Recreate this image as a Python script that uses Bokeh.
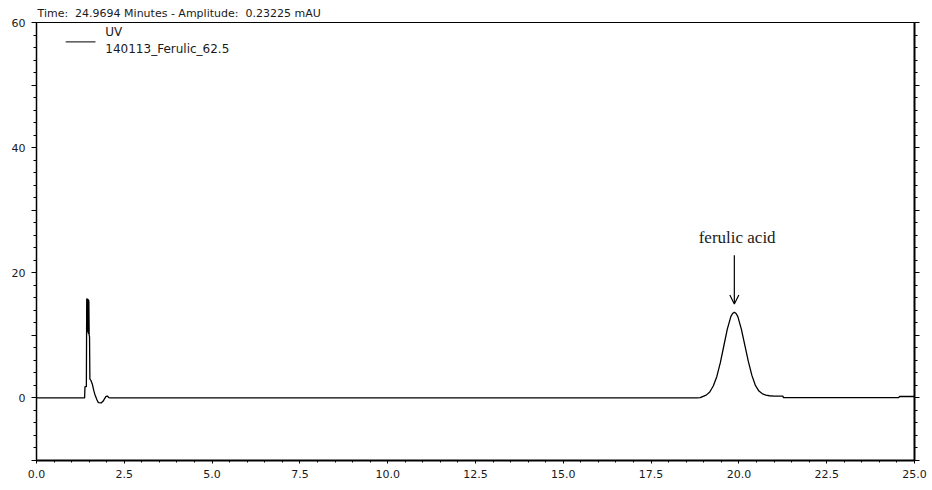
from bokeh.plotting import figure
from bokeh.models import (SingleIntervalTicker, LinearAxis, CustomJSTickFormatter,
                          PrintfTickFormatter, Range1d, Label, Arrow, OpenHead)
from bokeh.embed import file_html
from bokeh.resources import INLINE

# UV trace of sample 140113_Ferulic_62.5 (time in minutes, amplitude in mAU)
time_min = [
    0.00, 1.37, 1.38, 1.42, 1.43, 1.44, 1.45, 1.46, 1.47, 1.48, 1.49, 1.50,
    1.51, 1.52, 1.55, 1.59, 1.63, 1.66, 1.72, 1.76, 1.84, 1.90, 1.94, 1.98,
    2.02, 2.06, 2.10,
    18.80, 18.90, 19.00, 19.07, 19.17, 19.27, 19.37, 19.47, 19.57, 19.67,
    19.77, 19.82, 19.87, 19.92, 19.97, 20.07, 20.17, 20.27, 20.37, 20.47,
    20.57, 20.67, 20.77, 20.87, 21.00, 21.25, 21.27, 24.55, 24.57, 25.00,
]
amplitude_mau = [
    0.00, 0.00, 1.80, 1.80, 15.90, 11.00, 15.90, 10.50, 15.80, 10.20, 15.60, 10.00,
    9.80, 3.00, 2.80, 2.20, 1.20, 0.60, -0.30, -0.75, -0.80, -0.50, -0.10, 0.25,
    0.30, 0.05, 0.00,
    0.00, 0.05, 0.30, 0.45, 0.95, 1.90, 3.40, 5.60, 8.30, 11.00,
    13.00, 13.50, 13.70, 13.50, 13.00, 11.00, 8.40, 5.80, 3.60, 2.00,
    1.10, 0.65, 0.45, 0.35, 0.30, 0.30, 0.05, 0.05, 0.23, 0.23,
]

peak_name = "ferulic acid"
peak_time = 19.87
trace_name = "UV"
sample_name = "140113_Ferulic_62.5"
status_text = "Time:\u00a0 24.9694 Minutes - Amplitude:\u00a0 0.23225 mAU"

FONT = "DejaVu Sans"
INK = "#1a1a1a"

p = figure(width=932, height=490, output_backend="svg", toolbar_location=None,
           x_range=Range1d(0, 25), y_range=Range1d(-10, 60),
           min_border_left=36, min_border_right=18,
           min_border_top=22, min_border_bottom=30,
           background_fill_color="white", border_fill_color="white")

p.title.text = status_text
p.title.text_font = FONT
p.title.text_font_size = "11px"
p.title.text_font_style = "normal"
p.title.text_color = INK
p.title.align = "left"
p.title.standoff = 6
p.title.offset = 1

p.xgrid.visible = False
p.ygrid.visible = False
p.outline_line_color = "black"
p.outline_line_width = 1

# chromatogram trace
p.line(time_min, amplitude_mau, line_color="black", line_width=1.3)

# x axis: minutes
xa = p.xaxis[0]
xa.ticker = SingleIntervalTicker(interval=2.5, num_minor_ticks=5)
xa.formatter = PrintfTickFormatter(format="%.1f")
xa.axis_line_width = 2
xa.major_tick_in = 0
xa.major_tick_out = 3
xa.minor_tick_in = 0
xa.minor_tick_out = 2
xa.major_label_standoff = 6

# y axis: mAU, labels every 20
ya = p.yaxis[0]
ya.ticker = SingleIntervalTicker(interval=10, num_minor_ticks=5)
ya.formatter = CustomJSTickFormatter(
    code="return (tick >= 0 && tick % 20 === 0) ? tick.toFixed(0) : '';")
ya.axis_line_width = 1.5
ya.major_tick_in = 0
ya.major_tick_out = 5
ya.minor_tick_in = 0
ya.minor_tick_out = 3
ya.major_label_standoff = 6

for ax in (xa, ya):
    ax.major_label_text_font = FONT
    ax.major_label_text_font_size = "11px"
    ax.major_label_text_color = INK
    ax.axis_line_color = "black"

right = LinearAxis(ticker=SingleIntervalTicker(interval=10, num_minor_ticks=5),
                   formatter=CustomJSTickFormatter(code="return '';"),
                   axis_line_width=2, major_tick_in=0, major_tick_out=5,
                   minor_tick_in=0, minor_tick_out=3,
                   major_label_text_font_size="11px")
p.add_layout(right, "right")

# legend entry
p.line([0.83, 1.68], [56.9, 56.9], line_color="black", line_width=1)
p.add_layout(Label(x=1.96, y=58.5, text=trace_name, text_font=FONT,
                   text_font_size="12px", text_color=INK,
                   text_baseline="middle", text_align="left"))
p.add_layout(Label(x=1.96, y=55.8, text=sample_name, text_font=FONT,
                   text_font_size="12px", text_color=INK,
                   text_baseline="middle", text_align="left"))

# peak annotation
p.add_layout(Arrow(end=OpenHead(size=9, line_width=1.2, line_color="black"),
                   x_start=peak_time, y_start=22.8, x_end=peak_time, y_end=15.0,
                   line_width=1.2, line_color="black"))
p.add_layout(Label(x=peak_time + 0.08, y=25.6, text=peak_name,
                   text_font="Liberation Serif", text_font_size="17px",
                   text_color=INK, text_align="center", text_baseline="middle"))

open("out.html", "w").write(file_html(p, INLINE))
